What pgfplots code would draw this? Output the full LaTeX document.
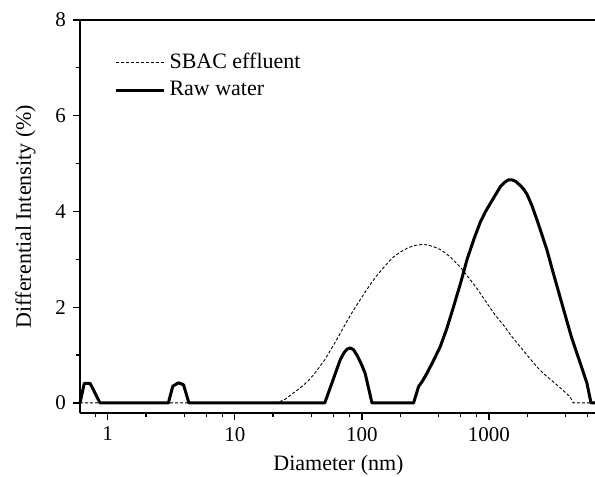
\documentclass[border=0pt]{standalone}
\usepackage{fontspec}
\setmainfont{Liberation Serif}
\usepackage{pgfplots}
\pgfplotsset{compat=1.18}
\begin{document}
\begin{tikzpicture}
\path[use as bounding box] (0,0) rectangle (297.5pt,238.5pt);
\begin{axis}[
  at={(40pt,32pt)}, anchor=south west,
  scale only axis, width=258.5pt, height=196.5pt,
  xmode=log, xmin=0.605, xmax=7080,
  ymin=-0.21, ymax=8,
  axis x line*=bottom, axis y line*=left,
  clip=false,
  xtick={1,10,100,1000}, xticklabels={1,10,100,1000},
  minor xtick={0.6,0.8,2,4,6,8,20,40,60,80,200,400,600,800,2000,4000,6000},
  ytick={0,2,4,6,8}, minor ytick={1,3,5,7},
  tick align=outside,
  major tick length=3.5pt, minor tick length=2pt,
  every tick/.style={line width=0.6pt, black},
  axis line style={line width=0.7pt},
  /pgf/number format/assume math mode=true,
  tick label style={font=\fontsize{10.5}{12}\selectfont},
  label style={font=\fontsize{11}{13}\selectfont},
  ylabel shift=3pt,
  xlabel={Diameter (nm)},
  ylabel={Differential Intensity (\%)},
  legend style={at={(0.066,0.927)}, anchor=north west, draw=none, fill=none,
    font=\fontsize{11}{13}\selectfont, row sep=1pt, inner sep=0pt},
  legend cell align=left,
  legend image code/.code={\draw[#1] (0pt,0pt) -- (24pt,0pt);},
  line join=round,
]
\draw[line width=0.7pt] (rel axis cs:0,1) -- (rel axis cs:1,1);
\addplot[black, line width=0.45pt, dash pattern=on 1.5pt off 1pt] coordinates {
(0.605,0) (21.4,0) (25,0.08) (28,0.18) (31,0.27) (34.7,0.37) (38,0.47) (42,0.6) (46,0.74) (51,0.9) (56,1.08) (62,1.28) (69,1.5) (76,1.7) (85,1.92) (95,2.12) (105,2.3) (116,2.47) (130,2.65) (145,2.8) (160,2.93) (177,3.05) (200,3.15) (230,3.24) (260,3.29) (297,3.31) (330,3.3) (370,3.26) (410,3.21) (450,3.14) (495,3.05) (540,2.95) (590,2.85) (650,2.71) (709,2.58) (800,2.4) (890,2.22) (1000,2.02) (1130,1.82) (1297,1.63) (1500,1.4) (1753,1.18) (2050,0.96) (2372,0.76) (2750,0.59) (3206,0.44) (3700,0.3) (4337,0.13) (4600,0) (7080,0)
};
\addlegendentry{SBAC effluent}
\addplot[black, line width=1.5pt] coordinates {
(0.605,0) (0.654,0.41) (0.726,0.41) (0.79,0.22) (0.87,0) (3.0,0) (3.25,0.35) (3.6,0.42) (3.95,0.38) (4.35,0)
(51,0) (58,0.41) (63,0.68) (67.5,0.9) (72,1.04) (76,1.12) (81,1.15) (86,1.11) (91.3,1.0) (98,0.84) (106,0.62) (120,0)
(255,0) (279,0.34) (300,0.46) (325,0.62) (365,0.88) (414,1.18) (465,1.55) (526,2.01) (600,2.52) (671,2.99) (760,3.42) (855,3.78) (940,4.0) (1026,4.17) (1120,4.34) (1230,4.52) (1330,4.61) (1420,4.66) (1520,4.66) (1620,4.63) (1750,4.55) (1870,4.47) (1991,4.36) (2180,4.12) (2388,3.82) (2620,3.5) (2862,3.19) (3200,2.72) (3800,2.02) (4450,1.38) (5150,0.88) (5900,0.41) (6350,0) (7080,0)
};
\addlegendentry{Raw water}
\end{axis}
\end{tikzpicture}
\end{document}
